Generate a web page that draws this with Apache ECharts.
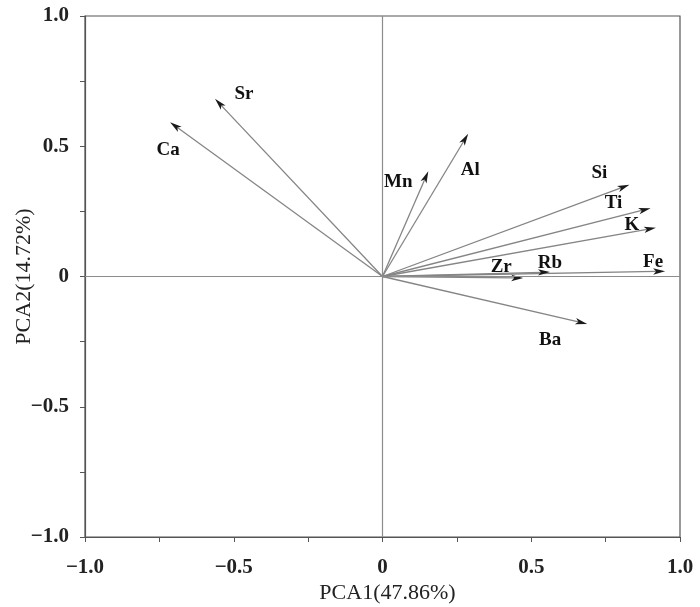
<!DOCTYPE html>
<html><head><meta charset="utf-8">
<script src="https://cdn.jsdelivr.net/npm/echarts@6/dist/echarts.min.js"></script>
<style>html,body{margin:0;padding:0;background:#fff}#c{width:700px;height:607px}</style>
</head><body><div id="c"></div>
<script>
var elements = ['Ca','Sr','Mn','Al','Si','Ti','K','Fe','Rb','Zr','Ba'];
var pca1 = [-0.714,-0.563,0.154,0.288,0.830,0.901,0.919,0.950,0.563,0.473,0.688];
var pca2 = [0.592,0.682,0.404,0.548,0.352,0.262,0.187,0.020,0.017,-0.006,-0.182];
var axisTicks = [-1.0,-0.5,0,0.5,1.0];

// label offsets from arrow tip (pixels) – layout only
var labelOffset = {
  Ca:[-2,28], Sr:[29,-5], Mn:[-30,11], Al:[2,36], Si:[-30,-12], Ti:[-37,-5],
  K:[-24,-3], Fe:[-12,-9], Rb:[0,-9], Zr:[-22,-11], Ba:[-37,16]
};

var data = elements.map(function(n,i){return [pca1[i],pca2[i],n];});
var serif = '"Liberation Serif","DejaVu Serif",serif';
function fmt(v){ if (Math.abs(v)<1e-9) return '0'; var s=v.toFixed(1); return s.replace('-','\u2212'); }

var chart = echarts.init(document.getElementById('c'));
chart.setOption({
  animation:false,
  grid:{left:85,right:20,top:16,bottom:70,containLabel:false,outerBoundsMode:'none',show:true,borderColor:'#555',borderWidth:1.2},
  xAxis:{type:'value',min:-1,max:1,interval:0.5,
    name:'PCA1(47.86%)',nameLocation:'middle',nameGap:45,nameMoveOverlap:false,
    nameTextStyle:{fontFamily:serif,fontSize:22,color:'#222',padding:[0,0,0,10]},
    axisLine:{show:true,onZero:false,lineStyle:{color:'#555',width:1.2}},
    axisTick:{show:true,inside:false,length:5,lineStyle:{color:'#555'}},
    minorTick:{show:true,splitNumber:2,length:5,lineStyle:{color:'#555'}},
    splitLine:{show:false},
    axisLabel:{formatter:fmt,fontFamily:serif,fontWeight:'bold',fontSize:21,color:'#222',margin:20}
  },
  yAxis:{type:'value',min:-1,max:1,interval:0.5,
    name:'PCA2(14.72%)',nameLocation:'middle',nameGap:50,nameRotate:90,nameMoveOverlap:false,
    nameTextStyle:{fontFamily:serif,fontSize:22,color:'#222'},
    axisLine:{show:true,onZero:false,lineStyle:{color:'#555',width:1.2}},
    axisTick:{show:true,inside:false,length:5,lineStyle:{color:'#555'}},
    minorTick:{show:true,splitNumber:2,length:5,lineStyle:{color:'#555'}},
    splitLine:{show:false},
    axisLabel:{formatter:fmt,fontFamily:serif,fontWeight:'bold',fontSize:21,color:'#222',margin:16}
  },
  series:[{
    type:'custom',
    data:data,
    encode:{x:0,y:1},
    renderItem:function(params,api){
      var x=api.value(0), y=api.value(1), name=elements[params.dataIndex];
      var o=api.coord([0,0]), t=api.coord([x,y]);
      var dx=t[0]-o[0], dy=t[1]-o[1], len=Math.sqrt(dx*dx+dy*dy);
      var ux=dx/len, uy=dy/len, px=-uy, py=ux;
      var hl=12, hw=3.2;
      var bx=t[0]-ux*hl, by=t[1]-uy*hl;
      var off=labelOffset[name]||[0,0];
      return {type:'group',children:[
        {type:'line',shape:{x1:o[0],y1:o[1],x2:bx+ux*3,y2:by+uy*3},style:{stroke:'#858585',lineWidth:1.3}},
        {type:'polygon',shape:{points:[[t[0],t[1]],[bx+px*hw,by+py*hw],[bx+ux*3,by+uy*3],[bx-px*hw,by-py*hw]]},style:{fill:'#1a1a1a'}},
        {type:'text',x:t[0]+off[0],y:t[1]+off[1],style:{text:name,fontFamily:serif,fontWeight:'bold',fontSize:19,fill:'#111',align:'center',verticalAlign:'middle'}}
      ]};
    },
    markLine:{silent:true,symbol:'none',label:{show:false},lineStyle:{color:'#8c8c8c',width:1.2,type:'solid'},
      data:[{xAxis:0},{yAxis:0}]}
  }]
});
</script></body></html>
